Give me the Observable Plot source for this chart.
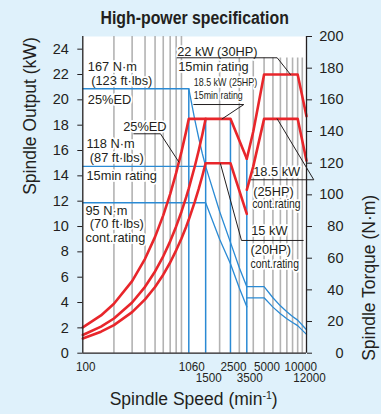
<!DOCTYPE html>
<html><head><meta charset="utf-8">
<script src="https://cdn.jsdelivr.net/npm/d3@7"></script>
<script src="https://cdn.jsdelivr.net/npm/@observablehq/plot@0.6"></script>
<style>
html,body{margin:0;padding:0;background:#dff1fb;}
#chart{width:381px;height:414px;}
</style></head><body><div id="chart"></div>
<script>
// ---------- data ----------
// Spindle output, kW — low-speed winding
const out25ED_speed = [100,150,200,300,400,500,600,700,800,900,1000,1060,1500];
const out25ED_kw    = [2.04,2.98,3.90,5.69,7.45,9.18,10.88,12.56,14.23,15.89,17.53,18.5,18.5];
const out15_speed   = [100,150,200,300,400,500,600,700,800,900,1000,1060,1200,1300,1400,1500,2500,3500];
const out15_kw      = [1.44,2.10,2.74,4.00,5.24,6.45,7.65,8.83,10.01,11.17,12.32,13.01,14.76,16.0,17.25,18.5,18.5,15.35];
const outCont_speed = [100,150,200,300,400,500,600,700,800,900,1000,1060,1200,1300,1400,1500,2500,3500];
const outCont_kw    = [1.16,1.70,2.22,3.24,4.25,5.23,6.20,7.16,8.12,9.06,9.99,10.55,11.97,12.97,13.99,15,15,11.0];
// Spindle output, kW — high-speed winding
const outHi_speed   = [3500,4000,5000,10000,12000];
const outHi15_kw    = [15.35,17.5,22,22,18.7];
const outHiCont_kw  = [12.9,14.75,18.5,18.5,15.2];
// Spindle torque, N·m
const tq25ED_speed  = [100,1060,1200,1300,1400,1500];
const tq25ED_nm     = [167,167,147.3,135.9,126.1,118];
const tqLow_speed   = [100,1500,2000,2500,3000,3500];
const tq15_nm       = [118,118,89.5,70,54,42];
const tqCont_nm     = [95,95,72,56.5,41.2,29.3];
const tqHi_speed    = [3500,5000,6000,7000,8000,9000,10000,12000];
const tqHi15_nm     = [42,42,35,29.9,26.2,23.2,20.9,14.8];
const tqHiCont_nm   = [35,35,29.1,24.9,21.8,19.4,17.4,11.9];
// drop lines at the corner speeds (top in kW)
const drop_speed    = [1060,1500,2500,3500];
const drop_top_kw   = [20.875,18.5,18.5,15.35];
// grid and ticks
const gridLow   = [200,300,400,500,600,700,800,900];
const gridHigh  = [2000,3000,4000,5000,6000,7000,8000,9000,10000,11000];
const xTickTop    = [100,1060,2500,5000,10000];
const xTickBottom = [1500,3500,12000];
const yTicksKw    = [0,2,4,6,8,10,12,14,16,18,20,22,24];
const yTicksNm    = [0,20,40,60,80,100,120,140,160,180,200];

// annotations: [text, speed, kW]
const notes = [
  ["167 N·m",111.8,22.63],["(123 ft·lbs)",120.6,21.53],["25%ED",111.8,20.03],
  ["25%ED",245.9,17.90],["118 N·m",108.6,16.5],["(87 ft·lbs)",116.9,15.45],
  ["15min rating",108.6,14.03],["95 N·m",106.2,11.26],["(70 ft·lbs)",116.9,10.2],
  ["cont.rating",106.2,9.12],["22 kW (30HP)",818.6,23.76],["15min rating",837,22.58],
  ["18.5 kW",3995,14.29],["(25HP)",3995,12.74],["15 kW",3833,9.69],["(20HP)",3778,8.18]
];
const notesSmall = [["18.5 kW (25HP)",1175,21.39],["15min rating",1175,20.34]];
const notesNarrow = [["cont.rating",3912,11.82],["cont.rating",3778,7.04]];
const leaders = [
  [[311.4,17.32],[564,17.32],[848,15.1]],
  [[818.6,23.32],[6555,23.32],[8625,22]],
  [[1175,19.63],[3289,19.63],[2108,18.5]],
  [[3833,13.69],[13950,13.69],[6555,18.5]],
  [[2036,14.95],[3137,8.90],[11212,8.90]]
];

// ---------- tables ----------
const rows = (sp, vals, series) => sp.map((s,i)=>({speed:s, value:vals[i], series}));
const power = [
  ...rows(out25ED_speed,out25ED_kw,"a"), ...rows(out15_speed,out15_kw,"b"),
  ...rows(outCont_speed,outCont_kw,"c"), ...rows(outHi_speed,outHi15_kw,"d"),
  ...rows(outHi_speed,outHiCont_kw,"e")
];
const torque = [
  ...rows(tq25ED_speed,tq25ED_nm,"a"), ...rows(tqLow_speed,tq15_nm,"b"),
  ...rows(tqLow_speed,tqCont_nm,"c"), ...rows(tqHi_speed,tqHi15_nm,"d"),
  ...rows(tqHi_speed,tqHiCont_nm,"e")
];
const drops = drop_speed.map((s,i)=>({speed:s, top:drop_top_kw[i]}));
const leaderRows = leaders.flatMap((pts,id)=>pts.map(([s,v])=>({speed:s,value:v,id})));
const toNote = ([t,s,k])=>({t,s,k});

const FONT = "'Liberation Sans', Arial, Helvetica, sans-serif";
const RED="#e8262b", BLUE="#2a8ad4", GRID="#b3b3b3", INK="#231f20";
const halo = {stroke:"white", strokeWidth:3.5, paintOrder:"stroke", fill:INK, textAnchor:"start", lineAnchor:"middle"};

const plot = Plot.plot({
  width:381, height:414,
  marginLeft:82.3, marginRight:75, marginTop:36, marginBottom:61.3,
  style:{background:"transparent", fontFamily:FONT, fontSize:"14.5px", color:INK},
  x:{type:"log", domain:[100,1060,3500,12000], range:[82.3,188.3,246.3,306], axis:null},
  y:{domain:[0,25], range:[352.7,36], axis:null, label:null},
  marks:[
    Plot.frame({fill:"white", stroke:null}),
    Plot.ruleX(gridLow, {x:d=>d, y1:()=>0, y2:()=>25, stroke:GRID, strokeWidth:1.6}),
    Plot.ruleX(gridHigh, {x:d=>d, y1:()=>0, y2:()=>23.3, stroke:GRID, strokeWidth:1.6}),
    Plot.text(notes.map(toNote), {x:"s", y:"k", text:"t", fontSize:12.8, ...halo}),
    Plot.text(notesSmall.map(toNote), {x:"s", y:"k", text:"t", fontSize:11, fontStyle:"normal", ...halo}),
    Plot.text(notesNarrow.map(toNote), {x:"s", y:"k", text:"t", fontSize:12.8, fontStyle:"normal", ...halo}),
    Plot.ruleX(drops, {x:"speed", y1:()=>0, y2:"top", stroke:BLUE, strokeWidth:1.5}),
    Plot.line(torque, {x:"speed", y:d=>d.value/8, z:"series", stroke:BLUE, strokeWidth:1.3}),
    Plot.line(power, {x:"speed", y:"value", z:"series", stroke:RED, strokeWidth:2.6}),
    Plot.line(leaderRows, {x:"speed", y:"value", z:"id", stroke:INK, strokeWidth:1}),
    Plot.ruleX([100,12000], {y1:()=>0, y2:()=>25, stroke:INK, strokeWidth:1.3}),
    Plot.ruleY([0], {x1:()=>100, x2:()=>12000, stroke:INK, strokeWidth:1.3}),
    Plot.axisY(yTicksKw, {anchor:"left", tickSize:5, tickPadding:9, label:null, tickFormat:d=>String(d)}),
    Plot.axisY(yTicksNm.map(d=>d/8), {anchor:"right", tickSize:5, tickPadding:32, textAnchor:"end", label:null, tickFormat:d=>String(Math.round(d*8))}),
    Plot.text(xTickTop, {x:d=>d, y:()=>0, text:d=>String(d), dy:17.3, dx:3, lineAnchor:"bottom", fontSize:13, fontVariant:"normal", fill:INK}),
    Plot.text(xTickBottom, {x:d=>d, y:()=>0, text:d=>String(d), dy:28.8, dx:3, lineAnchor:"bottom", fontSize:13, fontVariant:"normal", fill:INK}),
    Plot.text(["Spindle Output (kW)"], {frameAnchor:"left", text:d=>d, rotate:-90, dx:-52.3, fontSize:17.5, fill:INK}),
    Plot.text(["Spindle Torque (N·m)"], {frameAnchor:"right", text:d=>d, rotate:-90, dx:62.4, fontSize:17.5, fill:INK}),
    Plot.text(["Spindle Speed (min-1)"], {frameAnchor:"bottom", text:d=>d, dy:51.3, dx:-1, lineAnchor:"bottom", fontSize:17.5, fill:INK}),
    Plot.text(["High-power specification"], {frameAnchor:"top", text:d=>d, dy:-12.4, lineAnchor:"bottom", fontSize:18, fontWeight:"bold", fill:INK})
  ]
});
document.getElementById("chart").append(plot);

// superscript in x label
const ns = "http://www.w3.org/2000/svg";
Array.from(plot.querySelectorAll("text")).filter(t=>t.textContent==="Spindle Speed (min-1)").forEach(t=>{
  t.textContent = "Spindle Speed (min";
  const s1 = document.createElementNS(ns,"tspan"); s1.textContent="-1"; s1.setAttribute("font-size","10.5"); s1.setAttribute("dy","-6");
  const s2 = document.createElementNS(ns,"tspan"); s2.textContent=")"; s2.setAttribute("dy","6");
  t.append(s1, s2);
});
// condensed faces
function squeeze(sel, ratio){
  plot.querySelectorAll(sel).forEach(t=>{
    const L = t.getComputedTextLength();
    t.setAttribute("textLength",(L*ratio).toFixed(1));
    t.setAttribute("lengthAdjust","spacingAndGlyphs");
  });
}
squeeze('g[font-style="normal"] text', 0.81);
squeeze('g[font-variant="normal"] text', 0.9);
squeeze('g[font-weight="bold"] text', 0.88);
</script></body></html>
